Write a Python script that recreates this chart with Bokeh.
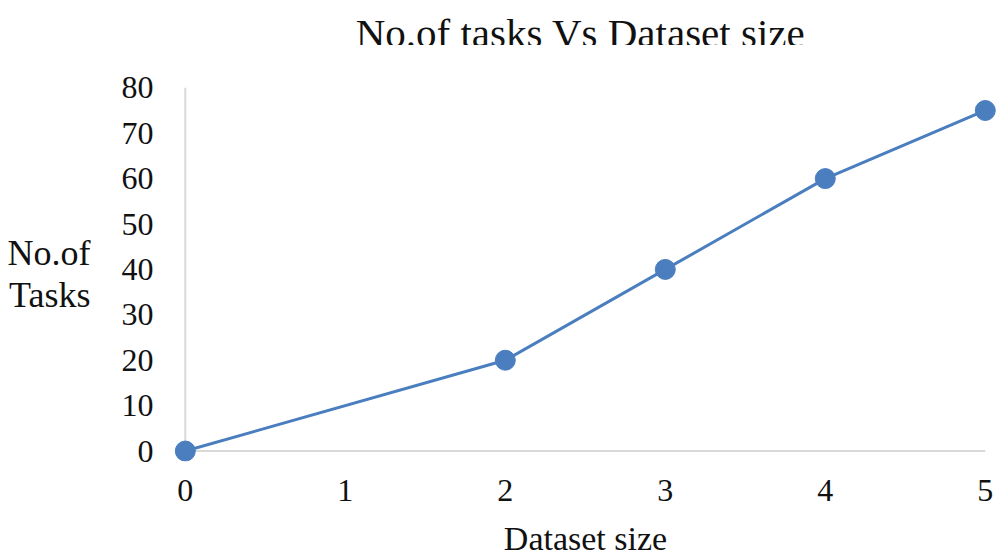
from bokeh.plotting import figure
from bokeh.models import Range1d, FixedTicker, Label
from bokeh.layouts import column
from bokeh.embed import file_html
from bokeh.resources import INLINE

dataset_size = [0, 2, 3, 4, 5]
num_tasks = [0, 20, 40, 60, 75]
x_ticks = [0, 1, 2, 3, 4, 5]
y_ticks = [0, 10, 20, 30, 40, 50, 60, 70, 80]

FONT = "Liberation Serif"
BLUE = "#4A7EBF"
GRID = "#D9D9D9"
TXT = "#111111"

W, H_TITLE, H_TOTAL = 998, 45, 559

# ---- title strip (its frame is the whole strip, so the text is not clipped)
tp = figure(width=W, height=H_TITLE, output_backend="svg", toolbar_location=None,
            x_range=Range1d(0, W), y_range=Range1d(0, H_TITLE),
            x_axis_location=None, y_axis_location=None, min_border=0)
tp.outline_line_color = None
tp.background_fill_color = "white"
tp.border_fill_color = "white"
for g in tp.grid:
    g.visible = False
tp.add_layout(Label(x=493, y=H_TITLE - 32, text="No.of tasks Vs Dataset size",
                    text_font=FONT, text_font_size="41px", text_color=TXT,
                    text_align="center", text_baseline="alphabetic"))

# ---- main chart
p = figure(width=W, height=H_TOTAL - H_TITLE, output_backend="svg", toolbar_location=None,
           x_range=Range1d(-0.08, 5.0825), y_range=Range1d(-2.3, 80.5),
           min_border_left=172, min_border_right=0, min_border_top=85 - H_TITLE, min_border_bottom=0)
p.outline_line_color = None
p.xgrid.visible = False
p.ygrid.visible = False
p.background_fill_color = "white"
p.border_fill_color = "white"

# axis rules drawn at the data origin
p.segment(x0=[x_ticks[0], x_ticks[0]], y0=[y_ticks[0], y_ticks[0]],
          x1=[x_ticks[-1], x_ticks[0]], y1=[y_ticks[0], y_ticks[-1]],
          line_color=GRID, line_width=2)

p.line(dataset_size, num_tasks, line_color=BLUE, line_width=3)
p.scatter(dataset_size, num_tasks, size=20, fill_color=BLUE, line_color=BLUE)

for ax in (p.xaxis[0], p.yaxis[0]):
    ax.axis_line_color = None
    ax.major_tick_line_color = None
    ax.minor_tick_line_color = None
    ax.major_tick_out = 0
    ax.major_tick_in = 0
    ax.major_label_text_font = FONT
    ax.major_label_text_font_size = "32px"
    ax.major_label_text_color = TXT
    ax.axis_label_text_font = FONT
    ax.axis_label_text_font_style = "normal"
    ax.axis_label_text_color = TXT

p.xaxis[0].ticker = FixedTicker(ticks=x_ticks)
p.yaxis[0].ticker = FixedTicker(ticks=y_ticks)
p.xaxis[0].major_label_standoff = 18
p.yaxis[0].major_label_standoff = 19

p.xaxis[0].axis_label = "Dataset size"
p.xaxis[0].axis_label_text_font_size = "34px"
p.xaxis[0].axis_label_standoff = 16

p.yaxis[0].axis_label = "No.of\nTasks"
p.yaxis[0].axis_label_text_font_size = "36px"
p.yaxis[0].axis_label_text_line_height = 1.05
p.yaxis[0].axis_label_standoff = 28
p.yaxis[0].axis_label_orientation = "horizontal"

layout = column(tp, p, spacing=0)
open("out.html", "w").write(file_html(layout, INLINE))
